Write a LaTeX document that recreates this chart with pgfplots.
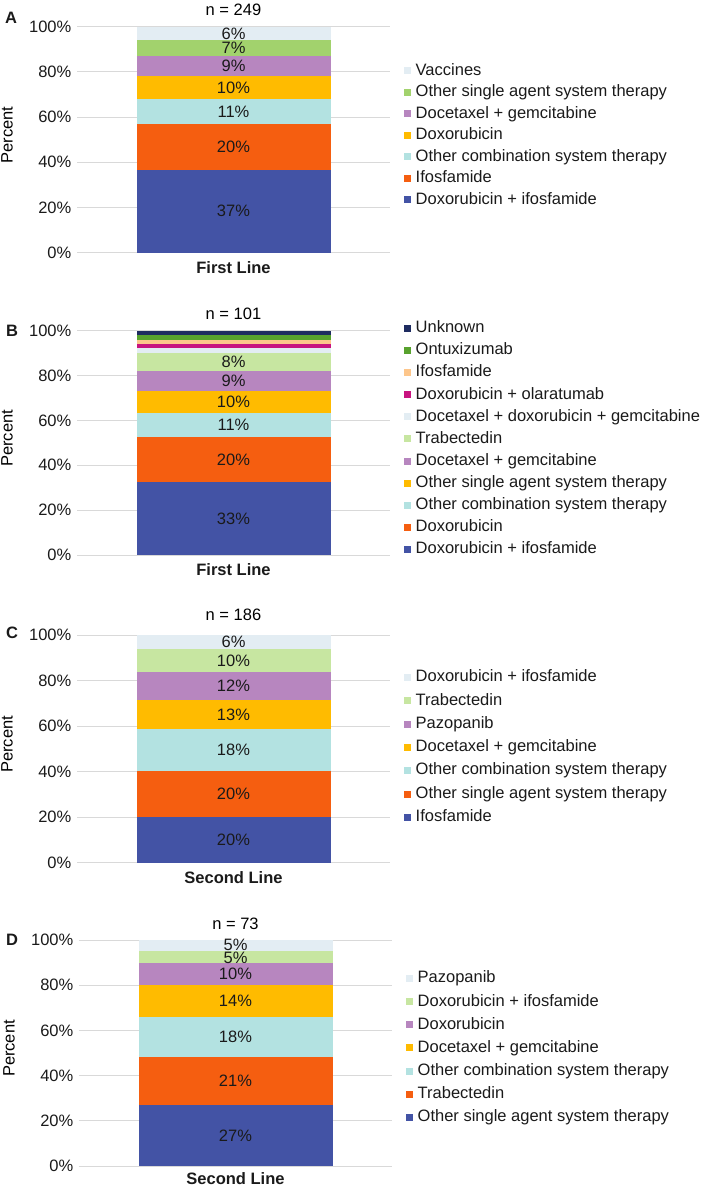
\documentclass[border=0pt]{standalone}
\usepackage{fontspec}
\setmainfont{Liberation Sans}
\usepackage{pgfplots}
\pgfplotsset{compat=1.18}
\definecolor{cBlue}{HTML}{4353A5}
\definecolor{cOrange}{HTML}{F55E10}
\definecolor{cTeal}{HTML}{B3E2E1}
\definecolor{cGold}{HTML}{FFBB00}
\definecolor{cPurple}{HTML}{B786BF}
\definecolor{cGreenA}{HTML}{A2D26D}
\definecolor{cLGreen}{HTML}{C7E6A1}
\definecolor{cPale}{HTML}{E3EDF3}
\definecolor{cMagenta}{HTML}{C8137F}
\definecolor{cPeach}{HTML}{FDC68B}
\definecolor{cMGreen}{HTML}{58A22E}
\definecolor{cNavy}{HTML}{1E2B60}
\definecolor{gridc}{HTML}{D9D9D9}
\definecolor{txt}{HTML}{1A1A1A}
\pgfplotsset{
  panel/.style={
    scale only axis, width=313pt, height=#1,
    xmin=-0.5, xmax=0.5, ymin=0, ymax=100,
    axis line style={draw=none}, major tick length=0pt, tick style={draw=none},
    ytick={0,20,40,60,80,100}, yticklabels={0\%,20\%,40\%,60\%,80\%,100\%},
    xtick={0},
    clip=false,
  },
  bars/.style={
    panel=#1, ybar stacked, bar width=194pt,
    ymajorgrids, grid style={draw=gridc, line width=1pt},
    ylabel={Percent},
    every axis y label/.style={at={(axis description cs:-0.2236,0.52)}, rotate=90, anchor=center},
    every axis title shift=0pt,
    title style={at={(axis description cs:0.5,1)}, anchor=center},
    reverse legend,
    legend cell align=left,
    legend style={draw=none, fill=none, inner sep=0pt, anchor=west, xshift=14pt, yshift=-1.5pt,
      nodes={inner sep=1.5pt, text height=12pt, text depth=3.5pt, text=txt}},
    xticklabel style={text=txt, yshift=-3pt},
    yticklabel style={text=txt},
  },
  labs/.style={panel=#1, hide axis},
  seg/.style={fill=#1, draw=none,
    legend image code/.code={\fill[#1] (0pt,-3.5pt) rectangle (7pt,3.5pt); \path (10pt,0pt);}},
  lab/.style={draw=none, mark=none, nodes near coords, point meta=explicit symbolic,
    nodes near coords align=center, every node near coord/.append style={text=txt, inner sep=0pt}},
}
\begin{document}
\fontsize{16.5}{19.8}\selectfont
\begin{tikzpicture}
\useasboundingbox (0,0) rectangle (709pt,-1187pt);
% ---------------- A ----------------
\begin{axis}[bars=226pt, at={(77pt,-252.7pt)}, anchor=south west,
  title={n = 249}, title style={yshift=17.2pt},
  xticklabels={\textbf{First Line}},
  legend style={at={(1,0.526)}, row sep=3pt}]
\addplot[seg=cBlue] coordinates {(0,36.7)};
\addplot[seg=cOrange] coordinates {(0,20.2)};
\addplot[seg=cTeal] coordinates {(0,11.1)};
\addplot[seg=cGold] coordinates {(0,10.1)};
\addplot[seg=cPurple] coordinates {(0,9.0)};
\addplot[seg=cGreenA] coordinates {(0,7.0)};
\addplot[seg=cPale] coordinates {(0,5.9)};
\legend{Doxorubicin + ifosfamide, Ifosfamide, Other combination system therapy, Doxorubicin, Docetaxel + gemcitabine, Other single agent system therapy, Vaccines}
\end{axis}
\begin{axis}[labs=226pt, at={(77pt,-252.7pt)}, anchor=south west]
\addplot[lab] table[meta=l] {
x y l
0 18.35 37\%
0 46.8 20\%
0 62.45 11\%
0 73.05 10\%
0 82.6 9\%
0 90.6 7\%
0 97.05 6\%
};
\end{axis}
\node[font=\bfseries, text=txt] at (11pt,-18pt) {A};
% ---------------- B ----------------
\begin{axis}[bars=224.3pt, at={(77pt,-555pt)}, anchor=south west,
  title={n = 101}, title style={yshift=16.7pt},
  xticklabels={\textbf{First Line}},
  legend style={at={(1,0.524)}, row sep=3.6pt}]
\addplot[seg=cBlue] coordinates {(0,32.7)};
\addplot[seg=cOrange] coordinates {(0,19.8)};
\addplot[seg=cTeal] coordinates {(0,10.9)};
\addplot[seg=cGold] coordinates {(0,9.9)};
\addplot[seg=cPurple] coordinates {(0,8.9)};
\addplot[seg=cLGreen] coordinates {(0,7.9)};
\addplot[seg=cPale] coordinates {(0,1.98)};
\addplot[seg=cMagenta] coordinates {(0,1.98)};
\addplot[seg=cPeach] coordinates {(0,1.98)};
\addplot[seg=cMGreen] coordinates {(0,1.98)};
\addplot[seg=cNavy] coordinates {(0,1.98)};
\legend{Doxorubicin + ifosfamide, Doxorubicin, Other combination system therapy, Other single agent system therapy, Docetaxel + gemcitabine, Trabectedin, Docetaxel + doxorubicin + gemcitabine, Doxorubicin + olaratumab, Ifosfamide, Ontuxizumab, Unknown}
\end{axis}
\begin{axis}[labs=224.3pt, at={(77pt,-555pt)}, anchor=south west]
\addplot[lab] table[meta=l] {
x y l
0 16.35 33\%
0 42.6 20\%
0 57.95 11\%
0 68.35 10\%
0 77.75 9\%
0 86.15 8\%
};
\end{axis}
\node[font=\bfseries, text=txt] at (12pt,-331pt) {B};
% ---------------- C ----------------
\begin{axis}[bars=227.7pt, at={(77pt,-862.7pt)}, anchor=south west,
  title={n = 186}, title style={yshift=20.5pt},
  xticklabels={\textbf{Second Line}},
  legend style={at={(1,0.513)}, row sep=4.8pt}]
\addplot[seg=cBlue] coordinates {(0,20.1)};
\addplot[seg=cOrange] coordinates {(0,20.2)};
\addplot[seg=cTeal] coordinates {(0,18.3)};
\addplot[seg=cGold] coordinates {(0,13.0)};
\addplot[seg=cPurple] coordinates {(0,12.0)};
\addplot[seg=cLGreen] coordinates {(0,10.1)};
\addplot[seg=cPale] coordinates {(0,6.3)};
\legend{Ifosfamide, Other single agent system therapy, Other combination system therapy, Docetaxel + gemcitabine, Pazopanib, Trabectedin, Doxorubicin + ifosfamide}
\end{axis}
\begin{axis}[labs=227.7pt, at={(77pt,-862.7pt)}, anchor=south west]
\addplot[lab] table[meta=l] {
x y l
0 10.05 20\%
0 30.2 20\%
0 49.45 18\%
0 65.1 13\%
0 77.6 12\%
0 88.65 10\%
0 96.85 6\%
};
\end{axis}
\node[font=\bfseries, text=txt] at (12pt,-633pt) {C};
% ---------------- D ----------------
\begin{axis}[bars=226pt, at={(79pt,-1166pt)}, anchor=south west,
  title={n = 73}, title style={yshift=16pt},
  xticklabels={\textbf{Second Line}}, xticklabel style={yshift=2pt},
  legend style={at={(1,0.529)}, row sep=4.6pt}]
\addplot[seg=cBlue] coordinates {(0,27.0)};
\addplot[seg=cOrange] coordinates {(0,21.1)};
\addplot[seg=cTeal] coordinates {(0,18.0)};
\addplot[seg=cGold] coordinates {(0,13.8)};
\addplot[seg=cPurple] coordinates {(0,10.0)};
\addplot[seg=cLGreen] coordinates {(0,5.2)};
\addplot[seg=cPale] coordinates {(0,4.9)};
\legend{Other single agent system therapy, Trabectedin, Other combination system therapy, Docetaxel + gemcitabine, Doxorubicin, Doxorubicin + ifosfamide, Pazopanib}
\end{axis}
\begin{axis}[labs=226pt, at={(79pt,-1166pt)}, anchor=south west]
\addplot[lab] table[meta=l] {
x y l
0 13.5 27\%
0 37.55 21\%
0 57.1 18\%
0 73.0 14\%
0 84.9 10\%
0 92.3 5\%
0 97.8 5\%
};
\end{axis}
\node[font=\bfseries, text=txt] at (12pt,-940pt) {D};
\end{tikzpicture}
\end{document}
